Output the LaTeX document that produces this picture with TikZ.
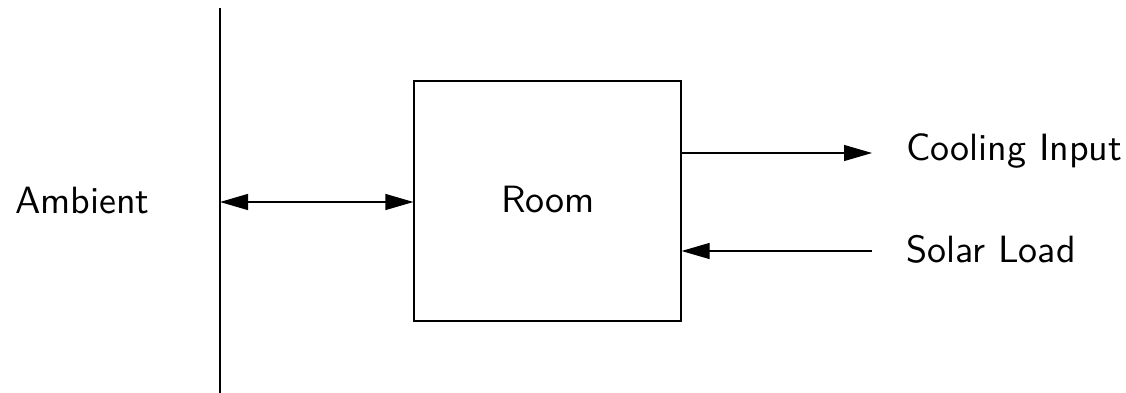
\documentclass[tikz,border=0pt]{standalone}
\usepackage{fontspec}
\newfontfamily\lmsten{lmsans10-regular.otf}
\usetikzlibrary{arrows.meta}
\begin{document}
\begin{tikzpicture}[x=1pt,y=-1pt,
  lbl/.style={font=\lmsten\fontsize{38}{41}\selectfont, inner sep=0pt, anchor=base west},
  boxnode/.style={draw, line width=1.2pt, minimum width=267pt, minimum height=240pt, inner sep=0pt},
  conn/.style={line width=1.2pt},
  tip/.style={-{Triangle[length=28pt,width=16pt]}},
  dtip/.style={{Triangle[length=28pt,width=16pt]}-{Triangle[length=28pt,width=16pt]}}]
\useasboundingbox (0,0) rectangle (1126,393);
\coordinate (wallTop) at (220,8);
\coordinate (wallBot) at (220,393);
\coordinate (wallMid) at (220,202);
\draw[line width=1.4pt] (wallTop) -- (wallBot);
\node[boxnode] (room) at (547.5,201) {};
\node[lbl, anchor=base] (roomlbl) at (548,212) {Room};
\node[lbl] (amb) at (15,213) {Ambient};
\node[lbl] (cool) at (906,160) {Cooling Input};
\node[lbl] (solar) at (906,262) {Solar Load};
\coordinate (coolEnd) at (872,153);
\coordinate (solarStart) at (872,251);
\draw[conn,dtip] (wallMid) -- (wallMid -| room.west);
\draw[conn,tip] (coolEnd -| room.east) -- (coolEnd);
\draw[conn,tip] (solarStart) -- (solarStart -| room.east);
\end{tikzpicture}
\end{document}
